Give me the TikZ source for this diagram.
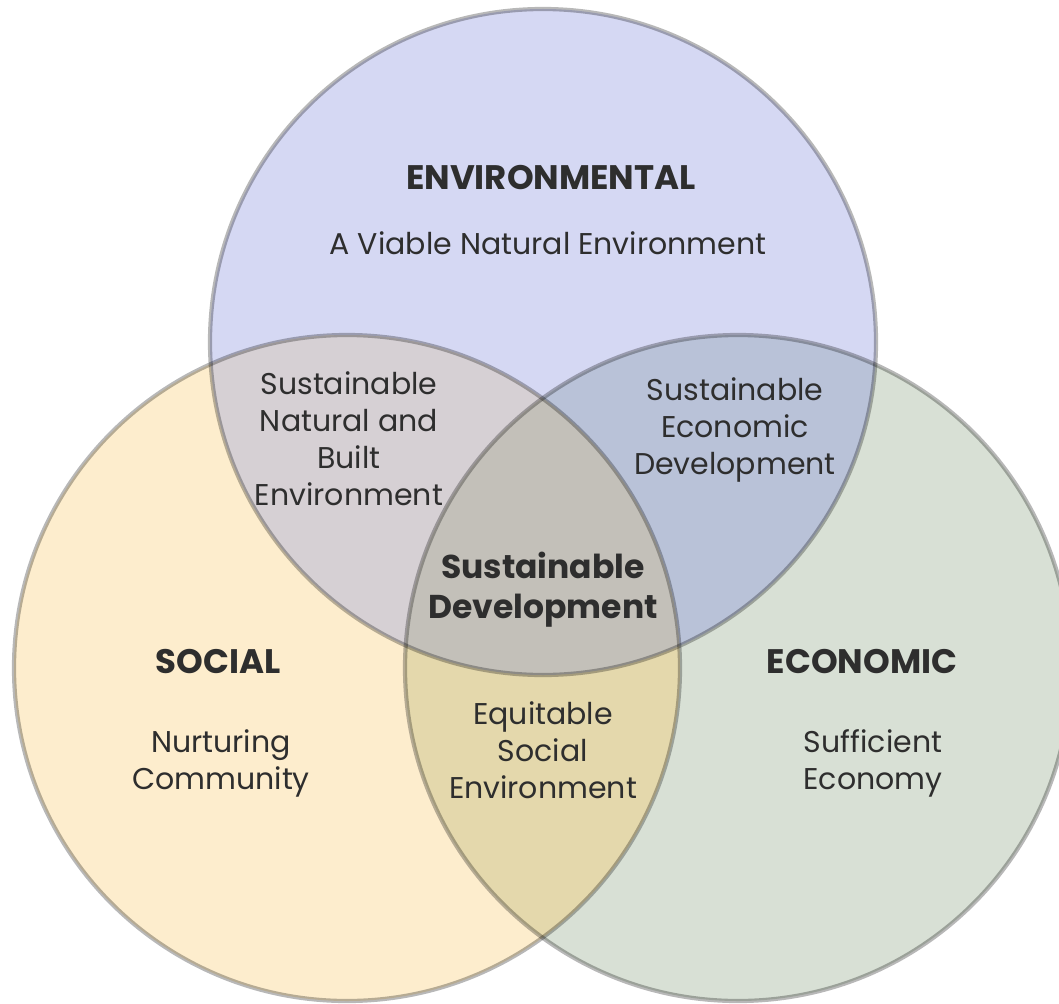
\documentclass[tikz,border=0pt]{standalone}
\usepackage{fontspec}
\setmainfont{Poppins}
\definecolor{cTop}{HTML}{D5D8F3}
\definecolor{cLeft}{HTML}{FDEDCD}
\definecolor{cRight}{HTML}{D8E0D5}
\definecolor{cTL}{HTML}{D6D0D4}
\definecolor{cTR}{HTML}{B9C2D8}
\definecolor{cLR}{HTML}{E4D8AC}
\definecolor{cC}{HTML}{C3C0B9}
\definecolor{txt}{HTML}{2E2E2E}
\tikzset{
  ring/.style={draw=black, draw opacity=0.28, line width=4.2pt},
  lbl/.style={text=txt, align=center, font=\fontsize{30}{37}\selectfont},
  head/.style={text=txt, align=center, font=\fontsize{34}{40}\selectfont\bfseries},
}
\begin{document}
\begin{tikzpicture}[x=1pt,y=-1pt]
\useasboundingbox (0,0) rectangle (1059,1003);
\fill[white] (0,0) rectangle (1059,1003);
\def\rr{333}
\coordinate (T) at (543,342);
\coordinate (L) at (347,668);
\coordinate (R) at (738,668);
\fill[cTop] (T) circle (\rr);
\fill[cLeft] (L) circle (\rr);
\fill[cRight] (R) circle (\rr);
\begin{scope}
  \clip (T) circle (\rr);
  \fill[cTL] (L) circle (\rr);
  \fill[cTR] (R) circle (\rr);
\end{scope}
\begin{scope}
  \clip (L) circle (\rr);
  \fill[cLR] (R) circle (\rr);
\end{scope}
\begin{scope}
  \clip (T) circle (\rr);
  \clip (L) circle (\rr);
  \fill[cC] (R) circle (\rr);
\end{scope}
\draw[ring] (T) circle (\rr);
\draw[ring] (L) circle (\rr);
\draw[ring] (R) circle (\rr);
\node[head] (env) at (551,178) {ENVIRONMENTAL};
\node[lbl] (envs) at (548,243) {A Viable Natural Environment};
\node[lbl] (tl) at (349,439) {Sustainable\\Natural and\\Built\\Environment};
\node[lbl] (tr) at (735,430) {Sustainable\\Economic\\Development};
\node[head, font=\fontsize{33}{40}\selectfont\bfseries] (sd) at (543,590) {Sustainable\\Development};
\node[head] (soc) at (218,662) {SOCIAL};
\node[lbl] (socs) at (221,763) {Nurturing\\Community};
\node[head] (eco) at (862,662) {ECONOMIC};
\node[lbl] (ecos) at (873,763) {Sufficient\\Economy};
\node[lbl] (lr) at (543,750) {Equitable\\Social\\Environment};
\end{tikzpicture}
\end{document}
